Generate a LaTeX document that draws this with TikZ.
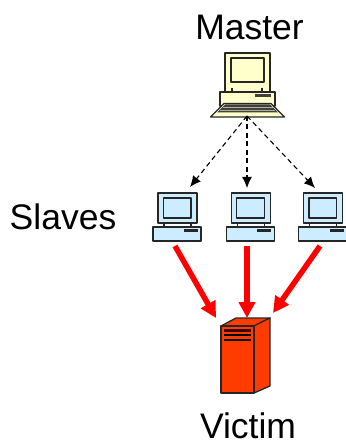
\documentclass[tikz,border=0pt]{standalone}
\usepackage{fontspec}
\setmainfont{Liberation Sans}
\usetikzlibrary{arrows.meta}
\tikzset{
  x=1pt,y=-1pt,
  lbl/.style={inner sep=0pt,anchor=base,font=\fontsize{35.5}{38}\selectfont},
  part/.style={draw=black!85,line width=1.3pt,line join=round},
  ctrl/.style={arrows={-{Latex[length=11pt 0 0,width=10pt 0 0]}},line width=1.1pt,dash pattern=on 5pt off 3.5pt},
  attack/.style={draw=red,line width=5.5pt,arrows={-{Triangle[length=16pt 0 0,width=16pt 0 0]}}},
  pics/pc/.style={code={
    \draw[part,fill=#1] (5,-34) rectangle (44,-4);
    \draw[part,fill=#1] (10.5,-29) rectangle (38,-9);
    \draw[part] (11,-4) -- (11,0) (38,-4) -- (38,0);
    \draw[part,fill=#1] (0,0) rectangle (48,14);
    \fill[black!85] (31,2) rectangle (45,4.5);
  }},
}
\definecolor{mcol}{HTML}{FFFFCC}
\definecolor{scol}{HTML}{CCECFF}
\definecolor{vcol}{HTML}{FF3C00}
\begin{document}
\begin{tikzpicture}
\useasboundingbox (0,0) rectangle (345,443);
\fill[white] (0,0) rectangle (345,443);
% labels
\node[lbl] (lm) at (249.5,40) {Master};
\node[lbl] (ls) at (63,229) {Slaves};
\node[lbl] (lv) at (248,438.5) {Victim};
% master
\begin{scope}[shift={(220,92)}]
  \draw[part,fill=mcol] (5,-39) rectangle (50,0);
  \draw[part,fill=mcol] (11,-34) rectangle (44,-10);
  \draw[part] (12,-4) -- (12,0) (42,-4) -- (42,0);
  \draw[part,fill=mcol] (0,0) rectangle (55,14);
  \fill[black!75] (35,2) rectangle (51,5);
  \draw[part,fill=mcol] (4,11.5) -- (51,11.5) -- (64.5,25) -- (-9.5,25) -- cycle;
  \fill[black!75] (5,12.5) -- (50,12.5) -- (58,20.5) -- (-3,20.5) -- cycle;
  \draw[mcol!70!black,line width=.5pt] (2.5,15) -- (52.5,15) (0,18) -- (55,18);
\end{scope}
% slaves
\pic at (153,227) {pc=scol};
\pic at (226.3,227) {pc=scol};
\pic at (298.5,227) {pc=scol};
% victim
\draw[part,fill=vcol] (221,326) -- (236,318) -- (270,318) -- (254,326) -- cycle;
\draw[part,fill=vcol] (254,326) -- (270,318) -- (270,386) -- (254,393) -- cycle;
\draw[part,fill=vcol] (221,326) rectangle (254,393);
\fill[black!75!red] (224,329) rectangle (251,331.5);
\fill[black] (224,334) rectangle (251,336);
\fill[black] (224,339) rectangle (251,341);
% anchors
\coordinate (m) at (247,116);
\coordinate (s1) at (190,187);
\coordinate (s2) at (247,188);
\coordinate (s3) at (315,188);
\coordinate (a1) at (175,246);
\coordinate (a2) at (247,246);
\coordinate (a3) at (320,246);
\coordinate (v1) at (216,318);
\coordinate (v2) at (247,318);
\coordinate (v3) at (273,313);
\draw[ctrl] (m) -- (s1);
\draw[ctrl] (m) -- (s2);
\draw[ctrl] (m) -- (s3);
\draw[attack] (a1) -- (v1);
\draw[attack] (a2) -- (v2);
\draw[attack] (a3) -- (v3);
\end{tikzpicture}
\end{document}
